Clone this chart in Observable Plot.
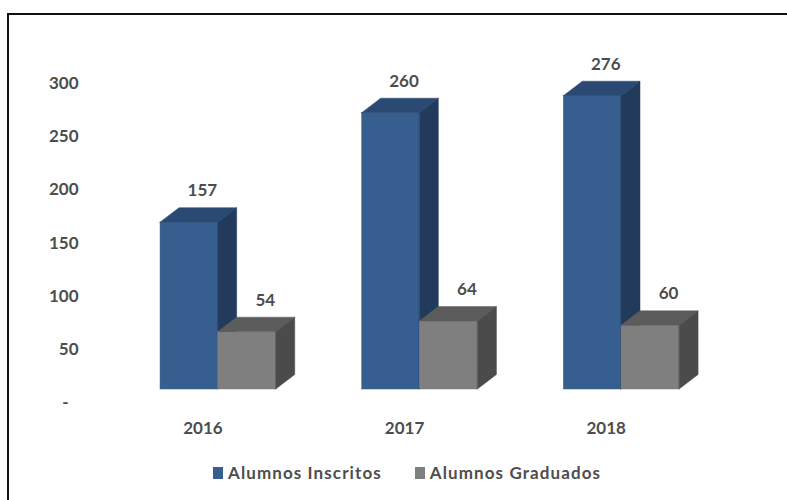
<!DOCTYPE html>
<html>
<head>
<meta charset="utf-8">
<script src="https://cdn.jsdelivr.net/npm/d3@7"></script>
<script src="https://cdn.jsdelivr.net/npm/@observablehq/plot@0.6"></script>
<style>
  html, body { margin: 0; padding: 0; background: #fff; overflow: hidden; width: 787px; height: 500px; }
  #frame { position: absolute; left: 7px; top: 13px; width: 820px; height: 520px;
           border-top: 2px solid #111; border-left: 2px solid #111; box-shadow: -1px -1px 0 #bbb inset; }
  #chart { position: absolute; left: 0; top: 0; }
  #legend { position: absolute; left: 213px; top: 462px; display: flex; align-items: center;
            font-family: Lato, "Open Sans", sans-serif; font-weight: bold; font-size: 17px; color: #4d4d4d;
            letter-spacing: 1.1px; }
  .item { display: flex; align-items: center; margin-right: 33px; }
  .sw { width: 10px; height: 12px; margin-right: 5px; }
</style>
</head>
<body>
<div id="frame"></div>
<div id="chart"></div>
<div id="legend"></div>
<script>
// ---- data ----
const years = ["2016", "2017", "2018"];
const seriesNames = ["Alumnos Inscritos", "Alumnos Graduados"];
const inscritos = [157, 260, 276];
const graduados = [54, 64, 60];
const yTicks = [0, 50, 100, 150, 200, 250, 300];

// ---- style / layout ----
const faces = [
  {front: "#365e8f", top: "#2a4a73", side: "#223b5c", legend: "#365e8f"},
  {front: "#7f7f7f", top: "#5c5c5c", side: "#4b4b4b", legend: "#7f7f7f"}
];
const OFFSET = 0.2;          // group left edge to first bar
const W = [0.286, 0.288];    // bar widths (x units)
const D = 0.094;             // depth in x units
const DY = 13.6;             // depth in y units
const textColor = "#4d4d4d";

const values = [inscritos, graduados];
const bars = [];
values.forEach((vals, s) => {
  vals.forEach((v, i) => {
    const x1 = i + OFFSET + (s ? W[0] : 0);
    bars.push({series: seriesNames[s], s, year: years[i], i, value: v, x1, x2: x1 + W[s], key: s + "-" + i});
  });
});

const marks = [];
[0, 1].forEach(s => {
  const b = bars.filter(d => d.s === s);
  const f = faces[s];
  marks.push(Plot.rect(b, {x1: "x1", x2: "x2", y1: 0, y2: "value", fill: f.front, stroke: f.front, strokeWidth: 0.5}));
  const top = b.flatMap(d => [
    {key: d.key, x: d.x1, y1: d.value, y2: d.value},
    {key: d.key, x: d.x1 + D, y1: d.value, y2: d.value + DY},
    {key: d.key, x: d.x2, y1: d.value, y2: d.value + DY},
    {key: d.key, x: d.x2 + D, y1: d.value + DY, y2: d.value + DY}
  ]);
  marks.push(Plot.areaY(top, {x: "x", y1: "y1", y2: "y2", z: "key", fill: f.top, stroke: f.top, strokeWidth: 0.5, curve: "linear"}));
  const side = b.flatMap(d => [
    {key: d.key, x: d.x2, y1: 0, y2: d.value},
    {key: d.key, x: d.x2 + D, y1: DY, y2: d.value + DY}
  ]);
  marks.push(Plot.areaY(side, {x: "x", y1: "y1", y2: "y2", z: "key", fill: f.side, stroke: f.side, strokeWidth: 0.5, curve: "linear"}));
  marks.push(Plot.text(b, {x: d => (d.x1 + d.x2) / 2, y: "value", text: d => String(d.value),
    dy: -32, dx: s ? 18 : 13, fill: textColor}));
});

marks.push(Plot.text(years, {x: (d, i) => i + 0.41, y: 0, dy: 39, text: d => d, fill: textColor}));
marks.push(Plot.axisY({ticks: yTicks, tickSize: 0, tickPadding: 41.7, dy: 13, label: null,
  tickFormat: d => d === 0 ? "-\u2007" : String(d)}));

const chart = Plot.plot({
  width: 787,
  height: 455,
  marginLeft: 119.7,
  marginRight: 62.3,
  marginTop: 17,
  marginBottom: 66,
  x: {domain: [0, 3], axis: null},
  y: {domain: [0, 350]},
  style: {fontFamily: "Lato, 'Open Sans', sans-serif", fontSize: "17px", fontWeight: "bold", color: textColor, background: "transparent"},
  marks
});
document.getElementById("chart").appendChild(chart);

const legend = document.getElementById("legend");
seriesNames.forEach((name, s) => {
  const item = document.createElement("div");
  item.className = "item";
  const sw = document.createElement("div");
  sw.className = "sw";
  sw.style.background = faces[s].legend;
  const t = document.createElement("span");
  t.textContent = name;
  item.appendChild(sw);
  item.appendChild(t);
  legend.appendChild(item);
});
</script>
</body>
</html>
